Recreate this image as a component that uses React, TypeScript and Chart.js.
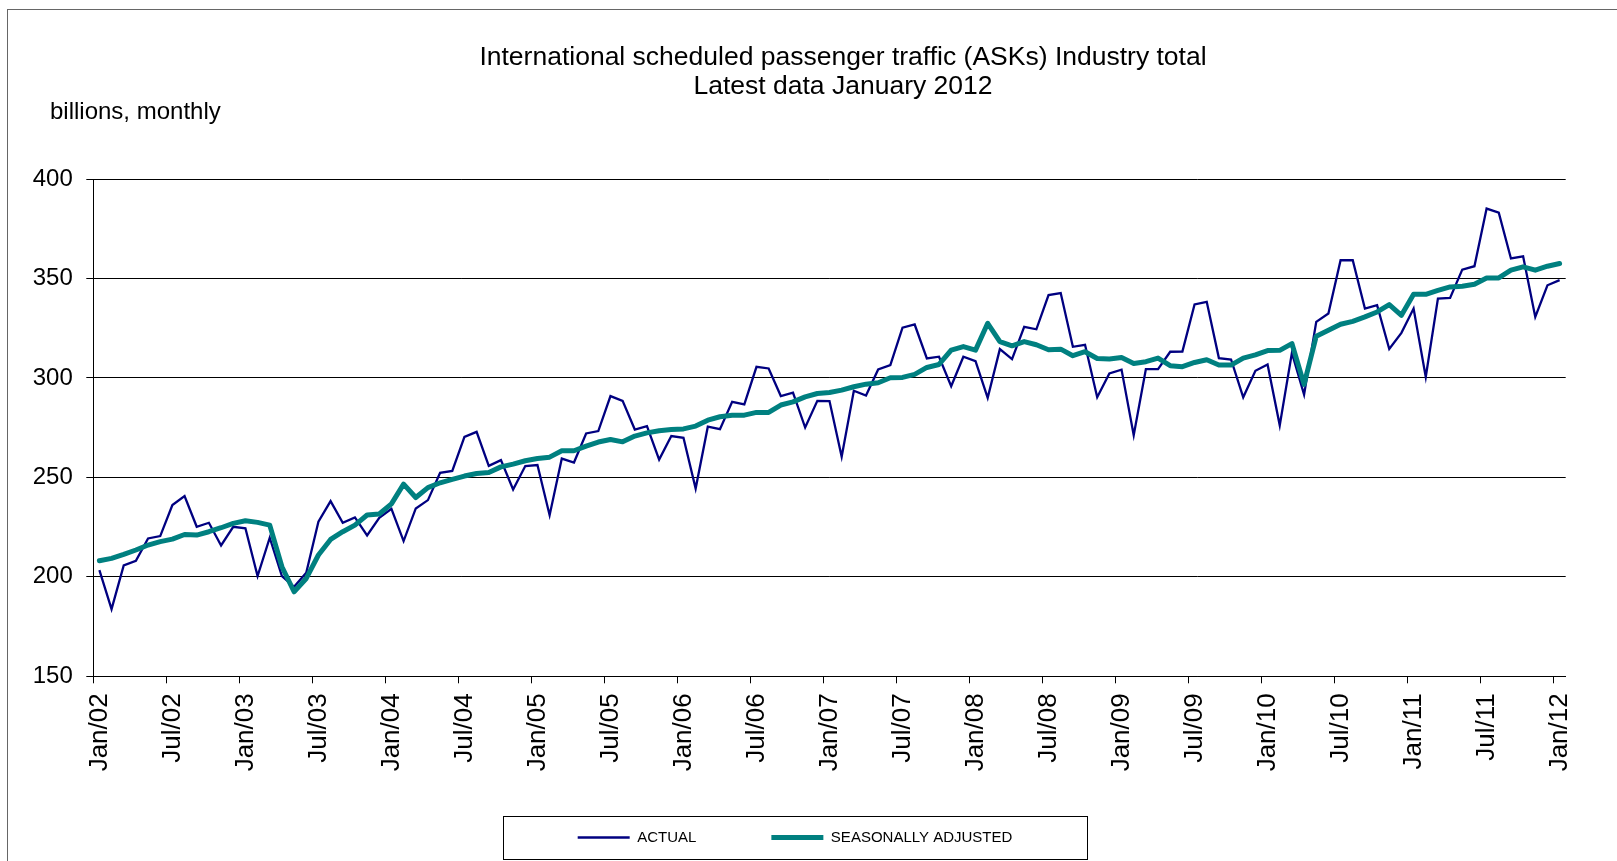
import React, { useEffect, useRef } from 'react';
import { Chart, registerables } from 'chart.js';

Chart.register(...registerables);

// ---------- data ----------
const MONTHS = ['Jan', 'Feb', 'Mar', 'Apr', 'May', 'Jun', 'Jul', 'Aug', 'Sep', 'Oct', 'Nov', 'Dec'];
const FIRST_YEAR = 2002;
const LAST_YEAR = 2012; // latest data: January 2012

const CATEGORIES: string[] = [];
for (let y = FIRST_YEAR; y <= LAST_YEAR; y++) {
  for (const m of MONTHS) {
    if (y === LAST_YEAR && m !== 'Jan') break;
    CATEGORIES.push(`${m}/${String(y).slice(2)}`);
  }
}

const ACTUAL = [
  203.4, 183.8, 205.8, 208.1, 219.3, 220.5, 236.1, 240.6, 225.2, 227.2, 215.8, 225.2,
  224.4, 200.4, 219.7, 200.4, 195.0, 202.1, 227.7, 238.1, 227.2, 229.9, 220.8, 229.7,
  234.2, 218.0, 234.4, 238.6, 252.3, 253.3, 270.4, 272.9, 255.8, 258.7, 243.9, 255.7,
  256.2, 231.0, 259.5, 257.5, 272.1, 273.3, 290.9, 288.5, 274.1, 275.8, 259.0, 270.8,
  269.9, 244.4, 275.5, 274.3, 288.0, 286.7, 305.6, 304.8, 290.9, 292.6, 275.1, 288.5,
  288.4, 260.4, 293.6, 291.2, 304.3, 306.5, 325.3, 326.9, 309.8, 310.7, 295.9, 310.7,
  308.5, 290.0, 314.5, 309.5, 325.7, 324.5, 341.7, 342.7, 315.7, 316.7, 290.3, 302.3,
  304.2, 271.2, 304.5, 304.5, 313.2, 313.3, 337.0, 338.3, 310.0, 309.3, 290.3, 303.6,
  306.8, 276.2, 312.6, 291.6, 328.2, 332.4, 359.2, 359.2, 334.9, 336.6, 314.6, 322.7,
  334.9, 300.5, 339.9, 340.3, 354.5, 356.2, 385.2, 383.1, 360.1, 361.2, 330.7, 346.6,
  349.2,
];

const SEASONALLY_ADJUSTED = [
  208.1, 209.3, 211.3, 213.5, 216.0, 217.7, 219.0, 221.3, 221.0, 222.7, 224.7, 226.9,
  228.2, 227.4, 226.0, 205.1, 192.5, 199.2, 211.0, 218.8, 222.7, 226.0, 231.1, 231.6,
  236.7, 246.6, 239.9, 244.9, 247.3, 249.0, 250.7, 252.0, 252.5, 255.3, 256.7, 258.4,
  259.5, 260.2, 263.4, 263.4, 265.7, 267.8, 269.1, 267.9, 270.8, 272.4, 273.5, 274.1,
  274.4, 275.8, 278.8, 280.5, 281.3, 281.3, 282.7, 282.7, 286.4, 288.0, 290.5, 292.2,
  292.7, 293.9, 295.6, 296.9, 297.6, 300.1, 300.3, 301.8, 305.3, 306.8, 314.0, 315.8,
  314.0, 327.5, 318.3, 316.2, 318.3, 316.7, 314.2, 314.5, 311.2, 313.2, 309.8, 309.5,
  310.3, 307.3, 308.2, 310.0, 306.2, 305.7, 307.8, 309.2, 306.5, 306.5, 310.0, 311.6,
  313.8, 313.9, 317.3, 296.8, 321.0, 324.0, 327.0, 328.5, 330.7, 333.2, 336.9, 331.5,
  342.1, 342.1, 344.1, 345.8, 346.1, 347.1, 350.3, 350.3, 354.2, 355.9, 354.2, 356.2,
  357.6,
];

const SERIES_NAMES = ['ACTUAL', 'SEASONALLY ADJUSTED'];
const TITLE = ['International scheduled passenger traffic (ASKs) Industry total', 'Latest data January 2012'];
const UNIT_LABEL = 'billions, monthly';
const Y_MIN = 150;
const Y_MAX = 400;
const Y_STEP = 50;
const LABEL_EVERY = 6;

// ---------- styling / layout ----------
const FONT = "'Liberation Sans', Arial, Helvetica, sans-serif";
const NAVY = '#000080';
const TEAL = '#008080';
const CANVAS_W = 1650;
const CANVAS_H = 868;
const PAD_LEFT = 20;
const UNIT_LEFT = 42; // left edge of "billions, monthly" (canvas px)
const LEGEND_FRAME = { left: 495, right: 1079, halfHeight: 21.6 };
const LEGEND_TOP = 745;
const LEGEND_PADDING = 75;
const LEGEND_FONT = 15;

const boxPlacementPlugin = {
  id: 'boxPlacement',
  afterLayout(chart: any) {
    // legend sits in its own framed box, below the rotated axis labels
    const lg = chart.legend;
    if (lg) {
      lg.left = LEGEND_FRAME.left - 40;
      lg.right = LEGEND_FRAME.right + 40;
      lg.width = lg.right - lg.left;
      lg.top = LEGEND_TOP;
      lg.bottom = LEGEND_TOP + lg.height;
    }
    // unit label starts a little right of the value labels
    for (const b of chart.boxes) {
      if (b && b.options && b.options.text === UNIT_LABEL) {
        const w = b.right - b.left;
        b.left = UNIT_LEFT;
        b.right = UNIT_LEFT + w;
      }
    }
  },
  afterDraw(chart: any) {
    const lg = chart.legend;
    if (!lg) return;
    const ctx = chart.ctx;
    const cy = lg.top + LEGEND_PADDING + LEGEND_FONT / 2;
    ctx.save();
    ctx.strokeStyle = '#000';
    ctx.lineWidth = 1;
    const top = Math.round(cy - LEGEND_FRAME.halfHeight) + 0.5;
    const h = Math.round(LEGEND_FRAME.halfHeight * 2);
    ctx.strokeRect(LEGEND_FRAME.left + 0.5, top, LEGEND_FRAME.right - LEGEND_FRAME.left, h);
    ctx.restore();
  },
};

const tickColor = (c: any) => (typeof c.index === 'number' && c.index % LABEL_EVERY === 0 ? '#000' : 'rgba(0,0,0,0)');

export default function App() {
  const ref = useRef<HTMLCanvasElement>(null);

  useEffect(() => {
    if (!ref.current) return;
    const chart = new Chart(ref.current, {
      type: 'line',
      data: {
        labels: CATEGORIES,
        datasets: [
          {
            label: SERIES_NAMES[0],
            data: ACTUAL,
            borderColor: NAVY,
            backgroundColor: NAVY,
            borderWidth: 2.3,
            pointRadius: 0,
            pointHoverRadius: 0,
            tension: 0,
            order: 2,
          },
          {
            label: SERIES_NAMES[1],
            data: SEASONALLY_ADJUSTED,
            borderColor: TEAL,
            backgroundColor: TEAL,
            borderWidth: 5,
            pointRadius: 0,
            pointHoverRadius: 0,
            tension: 0,
            borderJoinStyle: 'round',
            borderCapStyle: 'round',
            order: 1,
          },
        ],
      },
      options: {
        responsive: false,
        animation: false,
        devicePixelRatio: 1,
        events: [],
        layout: { padding: { left: PAD_LEFT, right: 0, top: 32.8, bottom: 1.7 } },
        plugins: {
          title: {
            display: true,
            text: TITLE,
            color: '#000',
            font: { family: FONT, size: 26.5, weight: 'normal', lineHeight: 1.106 },
            padding: 0,
          },
          subtitle: {
            display: true,
            text: UNIT_LABEL,
            align: 'start',
            color: '#000',
            font: { family: FONT, size: 24, weight: 'normal', lineHeight: 0.9 },
            padding: { top: 0, bottom: 56.1 },
          },
          legend: {
            display: true,
            position: 'bottom',
            labels: {
              usePointStyle: true,
              pointStyle: 'line',
              pointStyleWidth: 52,
              padding: LEGEND_PADDING,
              color: '#000',
              font: { family: FONT, size: LEGEND_FONT },
              sort: (a: any, b: any) => a.datasetIndex - b.datasetIndex,
            },
          },
          tooltip: { enabled: false },
        },
        scales: {
          x: {
            type: 'category',
            offset: true,
            grid: {
              offset: true,
              drawOnChartArea: false,
              drawTicks: true,
              tickLength: 7,
              lineWidth: 1,
              color: tickColor,
              tickColor: tickColor,
            },
            border: { display: true, color: '#000', width: 1 },
            ticks: {
              autoSkip: false,
              minRotation: 90,
              maxRotation: 90,
              padding: 10,
              color: '#000',
              font: { family: FONT, size: 26 },
              callback: (_v: any, i: number) => (i % LABEL_EVERY === 0 ? CATEGORIES[i] : ''),
            },
            afterFit: (s: any) => {
              s.height = 100;
              s.paddingRight = 92.3;
            },
          },
          y: {
            type: 'linear',
            min: Y_MIN,
            max: Y_MAX,
            ticks: {
              stepSize: Y_STEP,
              padding: 13.5,
              color: '#000',
              font: { family: FONT, size: 24 },
            },
            grid: { color: '#000', lineWidth: 1, drawTicks: true, tickLength: 7 },
            border: { display: true, color: '#000', width: 1 },
            afterFit: (s: any) => {
              s.width = 65.3;
            },
          },
        },
      } as any,
      plugins: [boxPlacementPlugin],
    });
    return () => chart.destroy();
  }, []);

  return (
    <div
      style={{
        position: 'absolute',
        left: 0,
        top: 0,
        width: 1617,
        height: 861,
        overflow: 'hidden',
        background: '#fff',
      }}
    >
      <div
        style={{
          position: 'absolute',
          left: 7,
          top: 9,
          width: 1700,
          height: 900,
          border: '1px solid #666',
          boxSizing: 'border-box',
          background: '#fff',
        }}
      >
        <canvas
          ref={ref}
          width={CANVAS_W}
          height={CANVAS_H}
          style={{ position: 'absolute', left: 0, top: 0, width: CANVAS_W, height: CANVAS_H }}
        />
      </div>
    </div>
  );
}
